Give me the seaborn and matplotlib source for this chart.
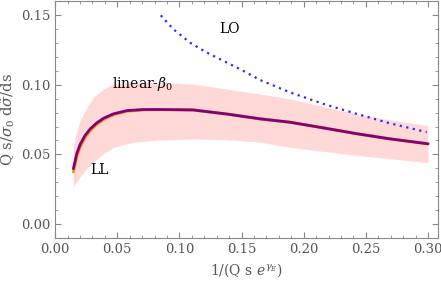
import numpy as np
import pandas as pd
import matplotlib
matplotlib.use("Agg")
import matplotlib.pyplot as plt
import seaborn as sns
from matplotlib.ticker import MultipleLocator

# data
x_nll = [0.0147, 0.0174, 0.0201, 0.0241, 0.0282, 0.0335, 0.0389, 0.0469, 0.0576, 0.071,
         0.0845, 0.111, 0.138, 0.165, 0.189, 0.216, 0.243, 0.269, 0.300]
y_lin = [0.0398, 0.0505, 0.0571, 0.0636, 0.0683, 0.0726, 0.0759, 0.0791, 0.0814, 0.0822,
         0.0822, 0.0819, 0.0790, 0.0755, 0.0731, 0.0690, 0.0648, 0.0612, 0.0576]
y_ll = [0.0374, 0.0485, 0.0553, 0.0621, 0.0670, 0.0716, 0.0751, 0.0785, 0.0810, 0.0820,
        0.0822, 0.0819, 0.0790, 0.0755, 0.0731, 0.0690, 0.0648, 0.0612, 0.0576]

x_band = [0.0147, 0.0161, 0.0201, 0.0255, 0.0308, 0.0389, 0.0469, 0.0630, 0.0845, 0.111,
          0.138, 0.165, 0.189, 0.216, 0.243, 0.269, 0.300]
band_hi = [0.055, 0.0624, 0.0743, 0.0838, 0.0910, 0.0969, 0.1005, 0.1015, 0.1017, 0.1005,
           0.0969, 0.0933, 0.0898, 0.0843, 0.0790, 0.0748, 0.0707]
band_lo = [0.0267, 0.0285, 0.0338, 0.0398, 0.0445, 0.0505, 0.0550, 0.0588, 0.0603, 0.0610,
           0.0605, 0.0588, 0.0550, 0.0521, 0.0493, 0.0469, 0.0441]

x_lo = [0.0850, 0.0952, 0.1086, 0.122, 0.1354, 0.1488, 0.1649, 0.189, 0.216, 0.243, 0.269, 0.299]
y_lo = [0.1498, 0.1398, 0.1302, 0.1231, 0.1171, 0.1112, 0.1034, 0.0945, 0.0862, 0.0790, 0.0724, 0.0660]

sns.set_style("ticks")
plt.rcParams["font.family"] = ["DejaVu Serif"]
plt.rcParams["mathtext.fontset"] = "dejavuserif"

fig = plt.figure(figsize=(4.41, 2.82), dpi=100)
ax = fig.add_axes([0.125, 0.156, 0.868, 0.84])

df = pd.DataFrame({"x": x_nll, "lin": y_lin, "ll": y_ll})
dlo = pd.DataFrame({"x": x_lo, "y": y_lo})

ax.fill_between(x_band, band_lo, band_hi, color="#ffd8d8", lw=0)
sns.lineplot(data=df, x="x", y="ll", color="#ff9900", lw=2.2, ax=ax)
sns.lineplot(data=df, x="x", y="lin", color="#800080", lw=2.0, ax=ax)
sns.lineplot(data=dlo, x="x", y="y", color="#2b2bff", lw=1.6, ls=(0, (1, 2)), ax=ax)

ax.text(0.140, 0.140, "LO", fontsize=10, color="black", ha="center", va="center")
ax.text(0.070, 0.1005, r"linear-$\beta_0$", fontsize=10, color="black", ha="center", va="center")
ax.text(0.036, 0.039, "LL", fontsize=10, color="black", ha="center", va="center")

ax.set_xlim(0, 0.308)
ax.set_ylim(-0.01, 0.16)
ax.xaxis.set_major_locator(MultipleLocator(0.05))
ax.xaxis.set_minor_locator(MultipleLocator(0.01))
ax.yaxis.set_major_locator(MultipleLocator(0.05))
ax.yaxis.set_minor_locator(MultipleLocator(0.01))
ax.xaxis.set_major_formatter(plt.FormatStrFormatter("%.2f"))
ax.yaxis.set_major_formatter(plt.FormatStrFormatter("%.2f"))
ax.tick_params(which="both", direction="in", top=True, right=True, color="#888888",
               labelcolor="#555555", labelsize=9.5)
ax.tick_params(which="major", length=4)
ax.tick_params(which="minor", length=2)
for s in ax.spines.values():
    s.set_color("#888888")
    s.set_linewidth(0.8)

ax.set_xlabel(r"1/(Q s $e^{\gamma_E}$)", fontsize=10, color="#555555")
ax.set_ylabel(r"Q s/$\sigma_0$ d$\tilde{\sigma}$/ds", fontsize=10.5, color="#555555", labelpad=3)

fig.savefig("out.png", dpi=100)
